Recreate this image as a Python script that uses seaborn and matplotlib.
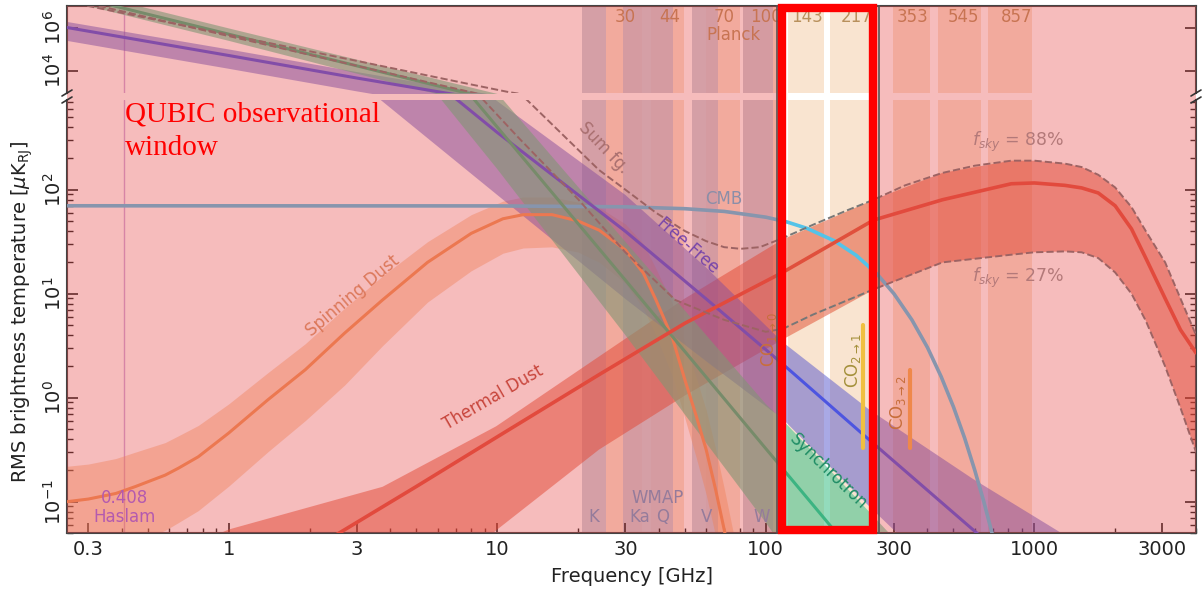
import numpy as np
import matplotlib
matplotlib.use("Agg")
import matplotlib.pyplot as plt
import matplotlib.transforms as mtransforms
from matplotlib.patches import Rectangle
from matplotlib.lines import Line2D
from matplotlib.ticker import LogLocator, NullFormatter, NullLocator
import seaborn as sns

# ---------------- data (GHz, uK_RJ) ----------------
cmb_freq = [0.25, 10, 30, 50, 70, 100, 120, 143, 180, 217, 260, 300, 350, 400, 450, 500, 550, 600, 650, 700, 750]
cmb_T = [70, 69.8, 68.4, 65.6, 61.8, 54.4, 48.9, 42.3, 32.2, 23.4, 15.4, 10.0, 5.6, 3.04, 1.59, 0.815, 0.41, 0.201, 0.098, 0.047, 0.022]

td_freq = [1, 2.58, 5, 10, 23.9, 50, 115, 252, 455, 821, 1000, 1300, 1500, 1730, 2000, 2300, 2600, 3070, 3500, 4000]
td_T = [0.012, 0.05, 0.14, 0.42, 1.66, 5.2, 15.9, 51, 80, 114, 116, 110, 104, 93, 70, 42, 22, 9.0, 4.5, 2.7]
td_hi_freq = [0.5, 1, 3.74, 9.9, 23.9, 50, 115, 252, 455, 821, 1000, 1300, 1500, 1730, 2000, 2300, 2600, 3070, 3500, 4000]
td_hi_T = [0.025, 0.054, 0.139, 0.53, 2.48, 9.0, 33, 80, 145, 190, 190, 178, 165, 139, 105, 68, 40, 20, 9.0, 4.0]
td_lo_freq = [5, 10, 23.9, 50, 115, 252, 455, 821, 1000, 1300, 1500, 1730, 2000, 2300, 2600, 3070, 3500, 4000]
td_lo_T = [0.012, 0.054, 0.316, 1.05, 3.6, 10.9, 19.9, 23.7, 25, 25.5, 25, 22, 16, 10, 5.5, 2.0, 0.8, 0.3]

sum88_freq = [0.25, 0.3, 1, 3, 8, 11, 12.9, 18, 23.9, 30, 39, 50, 60, 70, 80.6, 95, 115, 150, 200, 252,
              330, 455, 600, 821, 1000, 1300, 1500, 1730, 2000, 2300, 2600, 3070, 3500, 4000]
sum88_T = [1.6e7, 1.0e7, 4.6e5, 2.8e4, 2240, 1000, 730, 316, 155, 100, 60, 40, 32, 28, 27, 28, 34, 46, 63, 80,
           110, 145, 170, 190, 190, 178, 165, 139, 105, 68, 40, 20, 9.0, 4.0]
sum27_freq = [0.25, 0.33, 1, 3, 8.4, 12, 20, 30, 46, 70, 100, 116, 150, 252, 455, 821, 1000, 1300, 1500, 1730,
              2000, 2300, 2600, 3070, 3500, 4000]
sum27_T = [2.2e7, 1.0e7, 4.0e5, 1.66e4, 850, 316, 81, 25, 8.7, 5.6, 4.3, 4.6, 6.3, 11, 20, 23.7, 25, 25.5, 25, 22,
           16, 10, 5.5, 2.0, 0.8, 0.3]

sd_freq = [0.25, 0.3, 0.38, 0.45, 0.58, 0.65, 0.77, 1.0, 1.4, 1.93, 2.7, 3.74, 5.5, 8, 10.5, 12.5, 16, 20, 24, 30,
           35, 39, 45, 50, 55, 60, 65, 70, 80]
sd_T = [0.10, 0.106, 0.12, 0.14, 0.18, 0.21, 0.27, 0.457, 0.955, 1.86, 4.17, 8.7, 20, 38, 52.5, 57.5, 57.5, 50, 40.7,
        26.3, 15.8, 8.7, 3.7, 1.48, 0.676, 0.316, 0.132, 0.054, 0.01]
sd_hi = [0.219, 0.23, 0.26, 0.3, 0.37, 0.43, 0.54, 0.871, 1.74, 3.31, 7.24, 14.8, 31.6, 57.5, 77.6, 85.1, 85.1, 75.9,
         67.6, 46.8, 30.2, 17.4, 7.94, 3.31, 1.58, 0.759, 0.324, 0.135, 0.025]
sd_lo = [0.028, 0.03, 0.035, 0.041, 0.053, 0.063, 0.082, 0.141, 0.302, 0.603, 1.32, 3.16, 8.3, 16.6, 24.5, 27.5, 28.2,
         25.1, 20, 12.6, 7.24, 3.98, 1.58, 0.631, 0.269, 0.117, 0.047, 0.018, 0.003]

ff_freq = [0.25, 1, 3, 10, 30, 60, 116, 244, 590, 1260, 4000]
ff_T = [1.0e6, 5.0e4, 4470, 355, 39.8, 8.9, 2.09, 0.389, 0.054, 0.01, 0.0008]
ff_hi = [1.9e6, 1.0e5, 8900, 710, 89, 17.8, 3.4, 0.76, 0.166, 0.05, 0.005]
ff_lo = [2.5e5, 1.26e4, 1120, 89, 8.9, 2.24, 0.62, 0.089, 0.01, 0.002, 0.00016]

sy_freq = [0.25, 1, 10, 30, 100, 117, 245, 400]
sy_T = [3.5e7, 4.9e5, 400, 13.5, 0.324, 0.2, 0.0204, 0.0045]
sy_hi = [6.9e7, 9.5e5, 850, 31.6, 0.87, 0.59, 0.078, 0.02]
sy_lo = [1.8e7, 2.5e5, 158, 4.0, 0.063, 0.035, 0.0032, 0.00063]

planck_names = ["30", "44", "70", "100", "143", "217", "353", "545", "857"]
planck_centers = [30, 44, 70, 100, 143, 217, 353, 545, 857]
planck_lo = [25.5, 37.5, 60, 82, 121, 174, 297, 437, 673]
planck_hi = [34.7, 49.6, 80, 113, 165, 244, 410, 635, 980]
wmap_names = ["K", "Ka", "Q", "V", "W"]
wmap_centers = [22.9, 34, 41.4, 60.4, 96.6]
wmap_lo = [20.7, 29.5, 37.5, 53, 82]
wmap_hi = [25.4, 37.3, 45, 66.5, 106]

co_freq = [115, 230, 345]
co_top = [5.0, 5.0, 1.86]
co_bottom = [0.33, 0.33, 0.33]

xtick_vals = [0.3, 1, 3, 10, 30, 100, 300, 1000, 3000]
xtick_labels = ["0.3", "1", "3", "10", "30", "100", "300", "1000", "3000"]

# ---------------- layout ----------------
W, H = 1203, 590
def fx(px):
    return px / W
def fy(py):
    return 1 - py / H

sns.set_theme(style="white")
plt.rcParams['font.family'] = ['DejaVu Sans']
plt.rcParams['mathtext.fontset'] = 'dejavusans'

fig = plt.figure(figsize=(12.03, 5.90), dpi=100)
L, R = 67, 1196
ax_hi = fig.add_axes([fx(L), fy(93), (R - L) / W, (93 - 6) / H])
ax_lo = fig.add_axes([fx(L), fy(533), (R - L) / W, (533 - 100) / H])

PLANCK_C = '#f9e4d0'
WMAP_C = '#c5cad8'
SY_C, FF_C, SD_C, TD_C, CMB_C = '#3cb482', '#4d55e0', '#f0965a', '#e0503c', '#55c3e8'

for ax in (ax_hi, ax_lo):
    ax.set_xscale('log')
    ax.set_yscale('log')
    ax.set_facecolor('white')
    for lo, hi in zip(planck_lo, planck_hi):
        ax.axvspan(lo, hi, color=PLANCK_C, lw=0, zorder=0)
    for lo, hi in zip(wmap_lo, wmap_hi):
        ax.axvspan(lo, hi, color=WMAP_C, alpha=0.85, lw=0, zorder=0.5)
    ax.axvline(0.408, color='#b070c8', lw=1, alpha=0.6, zorder=1)

    # uncertainty bands
    ax.fill(td_hi_freq + td_lo_freq[::-1], td_hi_T + td_lo_T[::-1], color='#e14b2d', alpha=0.5, lw=0, zorder=2)
    ax.fill_between(sd_freq, sd_lo, sd_hi, color='#f5a060', alpha=0.4, lw=0, zorder=2)
    ax.fill_between(ff_freq, ff_lo, ff_hi, color='#5555cd', alpha=0.5, lw=0, zorder=2)
    ax.fill_between(sy_freq, sy_lo, sy_hi, color='#4cc490', alpha=0.6, lw=0, zorder=2)

    # component lines
    sns.lineplot(x=cmb_freq, y=cmb_T, ax=ax, color=CMB_C, lw=2.6, sort=False, estimator=None, zorder=3)
    sns.lineplot(x=sd_freq, y=sd_T, ax=ax, color=SD_C, lw=2.2, sort=False, estimator=None, zorder=3)
    sns.lineplot(x=ff_freq, y=ff_T, ax=ax, color=FF_C, lw=2.2, sort=False, estimator=None, zorder=3)
    sns.lineplot(x=sy_freq, y=sy_T, ax=ax, color=SY_C, lw=2.2, sort=False, estimator=None, zorder=3)
    sns.lineplot(x=td_freq, y=td_T, ax=ax, color=TD_C, lw=2.6, sort=False, estimator=None, zorder=3)
    sns.lineplot(x=sum88_freq, y=sum88_T, ax=ax, color='#777777', lw=1.4, ls='--', sort=False, estimator=None, zorder=4)
    sns.lineplot(x=sum27_freq, y=sum27_T, ax=ax, color='#777777', lw=1.4, ls='--', sort=False, estimator=None, zorder=4)

    ax.set_xlim(0.25, 4000)
    for s in ax.spines.values():
        s.set_color('#444444')
        s.set_linewidth(1.5)

ax_lo.set_ylim(0.05, 728)
ax_hi.set_ylim(900, 1e7)
ax_hi.spines['bottom'].set_visible(False)
ax_lo.spines['top'].set_visible(False)

# CO lines
co_cols = ['#f5b050', '#f0c040', '#f5b050']
for f, t0, t1, c in zip(co_freq, co_top, co_bottom, co_cols):
    ax_lo.plot([f, f], [t1, t0], color=c, lw=3, zorder=3)

# ---------------- ticks ----------------
ax_lo.set_xticks(xtick_vals)
ax_lo.set_xticklabels(xtick_labels)
ax_lo.xaxis.set_minor_locator(LogLocator(base=10, subs=np.arange(2, 10)))
ax_lo.xaxis.set_minor_formatter(NullFormatter())
ax_lo.tick_params(axis='x', which='both', direction='in', bottom=True, top=False,
                  labelsize=14, pad=5, colors='#222222')
ax_lo.tick_params(axis='x', which='major', length=7, width=1.2)
ax_lo.tick_params(axis='x', which='minor', length=3.5, width=1.0)

ax_lo.set_yticks([0.1, 1, 10, 100])
ax_lo.set_yticklabels([r'$10^{-1}$', r'$10^{0}$', r'$10^{1}$', r'$10^{2}$'])
ax_lo.yaxis.set_minor_locator(LogLocator(base=10, subs=np.arange(2, 10)))
ax_lo.yaxis.set_minor_formatter(NullFormatter())

ax_hi.set_yticks([1e4, 1e6])
ax_hi.set_yticklabels([r'$10^{4}$', r'$10^{6}$'])
ax_hi.yaxis.set_minor_locator(NullLocator())
ax_hi.tick_params(axis='x', which='both', bottom=False, top=False, labelbottom=False)
ax_hi.xaxis.set_minor_locator(NullLocator())

for ax in (ax_hi, ax_lo):
    ax.tick_params(axis='y', which='both', direction='in', left=True, right=True,
                   labelsize=14, labelrotation=90, pad=1.5, colors='#222222')
    ax.tick_params(axis='y', which='major', length=8, width=1.2)
    ax.tick_params(axis='y', which='minor', length=4, width=1.0)
    for lbl in ax.get_yticklabels():
        lbl.set_va('center')
    ax.set_xlabel('')
    ax.set_ylabel('')

# ---------------- band / component labels ----------------
tr_hi = mtransforms.blended_transform_factory(ax_hi.transData, ax_hi.transAxes)
for name, f in zip(planck_names, planck_centers):
    ax_hi.text(f, 0.874, name, transform=tr_hi, ha='center', va='center', fontsize=12, color='#b8905c', zorder=5)
ax_hi.text(76, 0.667, 'Planck', transform=tr_hi, ha='center', va='center', fontsize=12, color='#b8905c', zorder=5)

for name, f in zip(wmap_names, wmap_centers):
    ax_lo.text(f, 0.0718, name, ha='center', va='center', fontsize=12, color='#6a9ccc', zorder=5)
ax_lo.text(39.4, 0.109, 'WMAP', ha='center', va='center', fontsize=12, color='#6a9ccc', zorder=5)
ax_lo.text(0.41, 0.108, '0.408', ha='center', va='center', fontsize=12, color='#9968eb', zorder=5)
ax_lo.text(0.41, 0.0705, 'Haslam', ha='center', va='center', fontsize=12, color='#9968eb', zorder=5)

ax_lo.text(25, 253, 'Sum fg.', rotation=-46, ha='center', va='center', fontsize=12, color='#888888', zorder=5)
ax_lo.text(69.8, 82, 'CMB', ha='center', va='center', fontsize=12, color='#5bb8e0', zorder=5)
ax_lo.text(50.9, 28.3, 'Free-Free', rotation=-41, ha='center', va='center', fontsize=12, color='#3d49e3', zorder=5)
ax_lo.text(2.89, 9.6, 'Spinning Dust', rotation=40, ha='center', va='center', fontsize=12, color='#d79668', zorder=5)
ax_lo.text(9.67, 1.0, 'Thermal Dust', rotation=30, ha='center', va='center', fontsize=12, color='#b8493a', zorder=5)
ax_lo.text(171, 0.194, 'Synchrotron', rotation=-44, ha='center', va='center', fontsize=12, color='#1e8c64', zorder=5)
ax_lo.text(871, 289, r'$f_{sky}$ = 88%', ha='center', va='center', fontsize=12.5, color='#999999', zorder=5)
ax_lo.text(871, 14.3, r'$f_{sky}$ = 27%', ha='center', va='center', fontsize=12.5, color='#999999', zorder=5)
ax_lo.text(103, 3.6, r'CO$_{1\rightarrow0}$', rotation=90, ha='center', va='center', fontsize=12, color='#b8873a', zorder=5)
ax_lo.text(212, 2.27, r'CO$_{2\rightarrow1}$', rotation=90, ha='center', va='center', fontsize=12, color='#a5913c', zorder=5)
ax_lo.text(312, 0.895, r'CO$_{3\rightarrow2}$', rotation=90, ha='center', va='center', fontsize=12, color='#b8873a', zorder=5)

# axis titles
fig.text(fx(22), fy(312), r'RMS brightness temperature [$\mu$K$_{\rm RJ}$]', rotation=90,
         ha='center', va='center', fontsize=14, color='#222222')
fig.text(fx(632), fy(577), 'Frequency [GHz]', ha='center', va='center', fontsize=14, color='#222222')

# broken-axis marks
for x in (L, R):
    for y in (93, 100):
        fig.add_artist(Line2D([fx(x - 5), fx(x + 5)], [fy(y + 3), fy(y - 3)], color='#333333', lw=1.2, zorder=6))

# ---------------- pink overlay outside the QUBIC window ----------------
WIN_L, WIN_R = 782, 873
overlay = (0.90, 0.25, 0.25)
fig.add_artist(Rectangle((fx(L), fy(533)), (WIN_L - L) / W, (533 - 6) / H, transform=fig.transFigure,
                         facecolor=overlay, alpha=0.35, lw=0, zorder=5))
fig.add_artist(Rectangle((fx(WIN_R), fy(533)), (R - WIN_R) / W, (533 - 6) / H, transform=fig.transFigure,
                         facecolor=overlay, alpha=0.35, lw=0, zorder=5))
fig.add_artist(Rectangle((fx(776.5), fy(533)), (878.5 - 776.5) / W, (533 - 6) / H, transform=fig.transFigure,
                         fill=False, edgecolor='#555555', lw=1.2, zorder=9))
fig.add_artist(Rectangle((fx(WIN_L), fy(530)), (WIN_R - WIN_L) / W, (530 - 8) / H, transform=fig.transFigure,
                         fill=False, edgecolor='#ff0000', lw=6, zorder=10))

fig.text(fx(125), fy(101), 'QUBIC observational\nwindow', ha='left', va='top', fontsize=21,
         family=['Liberation Serif', 'DejaVu Serif'], color='#ff0000', linespacing=1.4, zorder=10)

fig.savefig('out.png', dpi=100)
